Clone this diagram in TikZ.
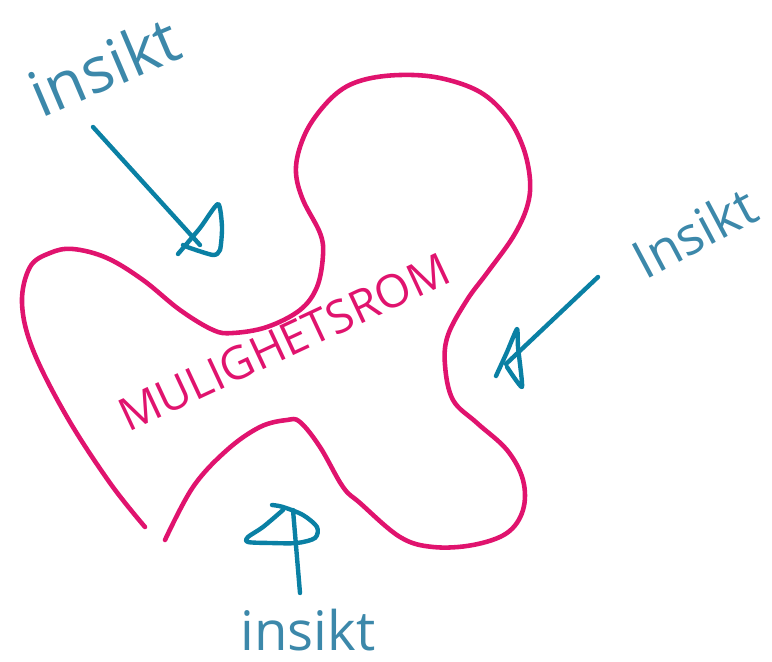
\documentclass[tikz,border=0pt]{standalone}
\usepackage{fontspec}
\setmainfont{Open Sans}
\usepackage{tikz}
\usetikzlibrary{positioning}
\definecolor{sketchpink}{HTML}{E0136E}
\definecolor{sketchteal}{HTML}{0A80A4}
\definecolor{labelteal}{HTML}{3C88AA}
\tikzset{
  blobline/.style={draw=sketchpink, line width=2.6pt, line cap=round, line join=round},
  stemline/.style={draw=sketchteal, line width=2.5pt, line cap=round, line join=round},
  headline/.style={draw=sketchteal, line width=2.5pt, line cap=round, line join=round},
  insiktlabel/.style={text=labelteal, inner sep=0pt},
  romlabel/.style={text=sketchpink, inner sep=0pt, font=\fontsize{26}{30}\selectfont}
}

\begin{document}
\begin{tikzpicture}[x=0.02cm, y=-0.02cm]
  \useasboundingbox (0,0) rectangle (772,662);
  % labels
  \node[insiktlabel, rotate=23, font=\fontsize{36}{40}\selectfont] (insTop) at (104,66) {insikt};
  \node[insiktlabel, rotate=28, font=\fontsize{30}{36}\selectfont] (insRight) at (694,232) {Insikt};
  \node[insiktlabel, font=\fontsize{31}{36}\selectfont] (insBottom) at (308,630) {insikt};
  \node[romlabel, rotate=25] (rom) at (284,342) {MULIGHETSROM};
  % arrow ends
  \coordinate (aTopS) at (93,127);
  \coordinate (aTopE) at (200,245);
  \coordinate (aRightS) at (598,277);
  \coordinate (aRightE) at (506,364);
  \coordinate (aBotS) at (300,593);
  \coordinate (aBotE) at (293,510);
  % the open space
  \draw[blobline] plot[smooth, tension=0.6] coordinates {
    (145,527) (110,483) (67,417) (33,350) (22,303) (30,267) (50,253) (73,249)
    (107,258) (143,280) (180,310) (213,330) (233,333) (267,327) (300,310)
    (317,287) (323,255) (320,233) (303,200) (296,173) (300,147) (313,120)
    (337,93) (363,80) (400,75) (440,78) (480,92) (507,117) (523,147) (530,180)
    (527,207) (513,237) (487,273) (467,300) (448,335) (445,365) (453,400)
    (477,423) (507,450) (523,480) (523,510) (507,533) (473,545) (433,547)
    (400,537) (360,503) (343,487) (320,447) (300,422) (287,420) (260,427)
    (227,450) (193,487) (165,540)};
  % arrows
  \draw[stemline] (aTopS) -- (aTopE);
  \draw[headline] plot[smooth, tension=0.4] coordinates {
    (178,254) (200,228) (218,204) (222,227) (220,250) (213,255) (190,248) (183,245)};
  \draw[stemline] (aRightS) -- (aRightE);
  \draw[headline] plot[smooth, tension=0.3] coordinates {
    (496,376) (507,352) (517,329) (518,347) (522,387) (507,367)};
  \draw[stemline] (aBotS) -- (aBotE);
  \draw[headline] plot[smooth, tension=0.5] coordinates {
    (272,505) (283,507) (303,515) (317,527) (315,538) (297,543) (270,543)
    (248,542) (248,537) (263,527) (283,510)};
\end{tikzpicture}
\end{document}
